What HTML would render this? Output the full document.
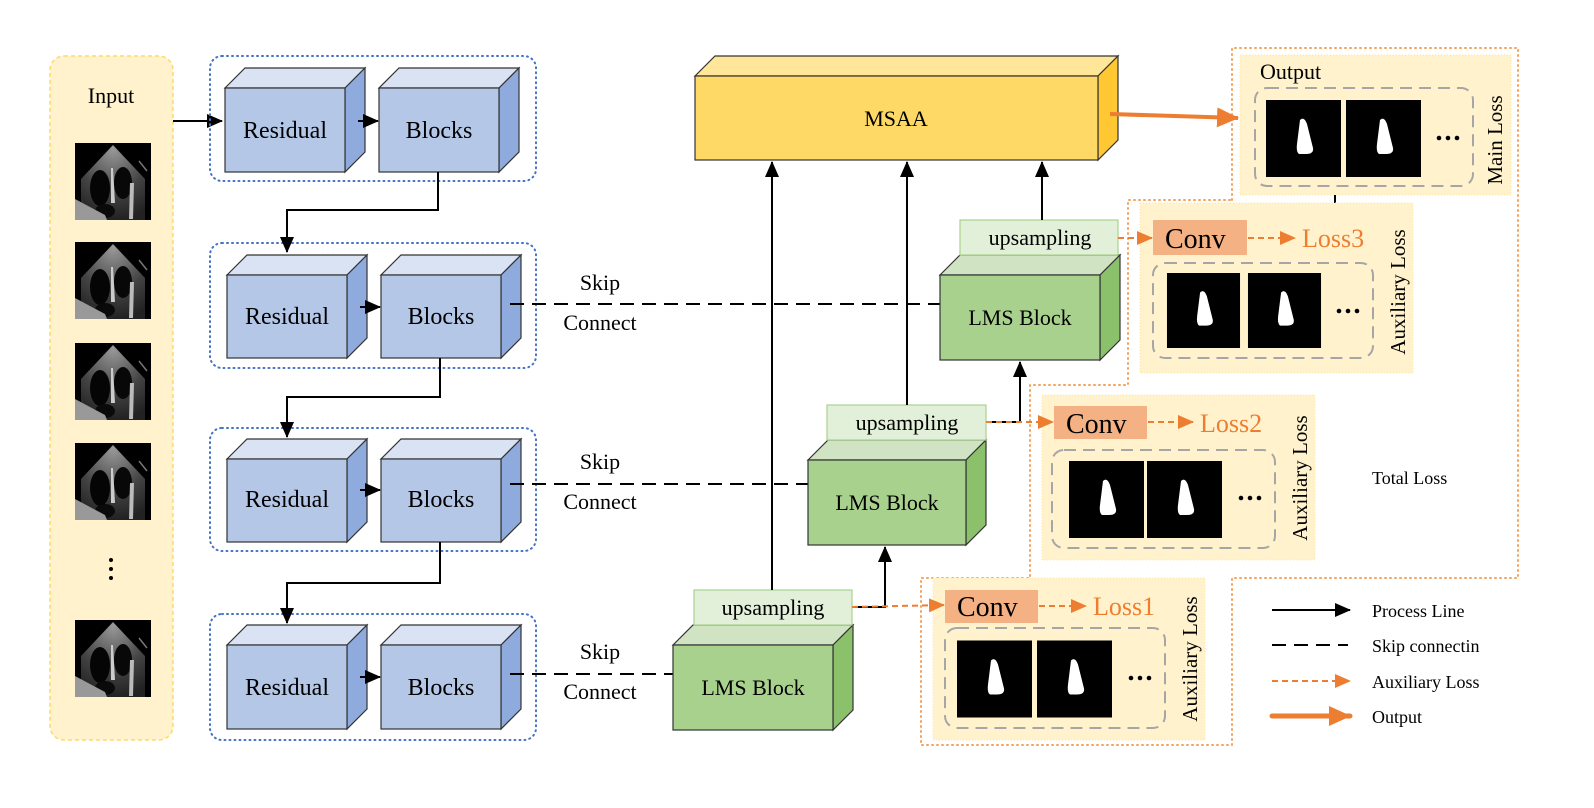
<!DOCTYPE html>
<html><head><meta charset="utf-8"><style>
html,body{margin:0;padding:0;background:#fff;}
svg{display:block;font-family:"Liberation Serif",serif;}
</style></head><body>
<svg width="1594" height="808" viewBox="0 0 1594 808" xmlns="http://www.w3.org/2000/svg">
<defs>
<marker id="ab2" markerWidth="16" markerHeight="14" refX="15" refY="7" orient="auto" markerUnits="userSpaceOnUse"><path d="M0,0 L16,7 L0,14 z" fill="#000"/></marker>
<marker id="ao" markerWidth="16" markerHeight="14" refX="15" refY="7" orient="auto" markerUnits="userSpaceOnUse"><path d="M0,0 L16,7 L0,14 z" fill="#ed7d31"/></marker>
<marker id="ao2" markerWidth="22" markerHeight="20" refX="21" refY="10" orient="auto" markerUnits="userSpaceOnUse"><path d="M0,0 L22,10 L0,20 z" fill="#ed7d31"/></marker>
<radialGradient id="fan" cx="0.5" cy="0.05" r="0.95"><stop offset="0" stop-color="#999"/><stop offset="0.6" stop-color="#444"/><stop offset="1" stop-color="#222"/></radialGradient>
<symbol id="echo" viewBox="0 0 76 77">
<rect width="76" height="77" fill="#000"/>
<path d="M38,2 L70,36 L70,77 L6,77 L6,36 z" fill="url(#fan)"/>
<ellipse cx="25" cy="45" rx="10" ry="18" fill="#050505"/>
<ellipse cx="48" cy="40" rx="9" ry="16" fill="#080808"/>
<ellipse cx="30" cy="68" rx="10" ry="7" fill="#0a0a0a"/>
<path d="M36,25 L38,25 L40,60 L36,60z" fill="#ccc"/>
<path d="M55,40 L59,40 L58,76 L54,76z" fill="#bbb"/>
<path d="M0,56 L30,72 L32,77 L0,77z" fill="#999"/>
<line x1="64" y1="18" x2="72" y2="28" stroke="#777" stroke-width="1.5"/>
</symbol>
<symbol id="mask" viewBox="0 0 75 77">
<rect width="75" height="77" fill="#000"/>
<path d="M34,20 Q38,16 41,24 L47,48 Q48,54 40,54 L33,54 Q30,52 31,44 Z" fill="#fff"/>
</symbol>
</defs>

<!-- Input panel -->
<rect x="50" y="56" width="123" height="684" rx="14" fill="#fff2cc" stroke="#ffd966" stroke-dasharray="4,3" stroke-width="1.5"/>
<text x="111" y="103" font-size="22" text-anchor="middle">Input</text>
<use href="#echo" x="75" y="143" width="76" height="77"/>
<use href="#echo" x="75" y="242" width="76" height="77"/>
<use href="#echo" x="75" y="343" width="76" height="77"/>
<use href="#echo" x="75" y="443" width="76" height="77"/>
<circle cx="111" cy="560" r="2" fill="#000"/><circle cx="111" cy="569" r="2" fill="#000"/><circle cx="111" cy="578" r="2" fill="#000"/>
<use href="#echo" x="75" y="620" width="76" height="77"/>
<line x1="173" y1="121" x2="222" y2="121" stroke="#000" stroke-width="2" marker-end="url(#ab2)"/>

<!-- Residual rows -->
<g stroke="#4472c4" stroke-width="2" stroke-dasharray="1,4" fill="none" stroke-linecap="round">
<rect x="210" y="56" width="326" height="125" rx="12"/>
<rect x="210" y="243" width="326" height="125" rx="12"/>
<rect x="210" y="428" width="326" height="123" rx="12"/>
<rect x="210" y="614" width="326" height="126" rx="12"/>
</g>
<g stroke="#333" stroke-width="1.2">
<polygon points="225,88 245,68 365,68 345,88" fill="#dae3f3"/><polygon points="345,88 365,68 365,152 345,172" fill="#8faadc"/><rect x="225" y="88" width="120" height="84" fill="#b4c7e7"/>
<polygon points="379,88 399,68 519,68 499,88" fill="#dae3f3"/><polygon points="499,88 519,68 519,152 499,172" fill="#8faadc"/><rect x="379" y="88" width="120" height="84" fill="#b4c7e7"/>
<polygon points="227,275 247,255 367,255 347,275" fill="#dae3f3"/><polygon points="347,275 367,255 367,338 347,358" fill="#8faadc"/><rect x="227" y="275" width="120" height="83" fill="#b4c7e7"/>
<polygon points="381,275 401,255 521,255 501,275" fill="#dae3f3"/><polygon points="501,275 521,255 521,338 501,358" fill="#8faadc"/><rect x="381" y="275" width="120" height="83" fill="#b4c7e7"/>
<polygon points="227,459 247,439 367,439 347,459" fill="#dae3f3"/><polygon points="347,459 367,439 367,522 347,542" fill="#8faadc"/><rect x="227" y="459" width="120" height="83" fill="#b4c7e7"/>
<polygon points="381,459 401,439 521,439 501,459" fill="#dae3f3"/><polygon points="501,459 521,439 521,522 501,542" fill="#8faadc"/><rect x="381" y="459" width="120" height="83" fill="#b4c7e7"/>
<polygon points="227,645 247,625 367,625 347,645" fill="#dae3f3"/><polygon points="347,645 367,625 367,709 347,729" fill="#8faadc"/><rect x="227" y="645" width="120" height="84" fill="#b4c7e7"/>
<polygon points="381,645 401,625 521,625 501,645" fill="#dae3f3"/><polygon points="501,645 521,625 521,709 501,729" fill="#8faadc"/><rect x="381" y="645" width="120" height="84" fill="#b4c7e7"/>
</g>
<g font-size="24" text-anchor="middle">
<text x="285" y="138">Residual</text><text x="439" y="138">Blocks</text>
<text x="287" y="324">Residual</text><text x="441" y="324">Blocks</text>
<text x="287" y="507">Residual</text><text x="441" y="507">Blocks</text>
<text x="287" y="695">Residual</text><text x="441" y="695">Blocks</text>
</g>
<g stroke="#000" stroke-width="2" fill="none">
<line x1="358" y1="121" x2="378" y2="121" marker-end="url(#ab2)"/>
<line x1="360" y1="307" x2="380" y2="307" marker-end="url(#ab2)"/>
<line x1="360" y1="490" x2="380" y2="490" marker-end="url(#ab2)"/>
<line x1="360" y1="677" x2="380" y2="677" marker-end="url(#ab2)"/>
<polyline points="438,172 438,210 287,210 287,252" marker-end="url(#ab2)"/>
<polyline points="440,358 440,397 287,397 287,437" marker-end="url(#ab2)"/>
<polyline points="440,542 440,583 287,583 287,623" marker-end="url(#ab2)"/>
</g>
<!-- skip -->
<g stroke="#000" stroke-width="2" stroke-dasharray="14,8">
<line x1="510" y1="304" x2="940" y2="304"/>
<line x1="510" y1="484" x2="808" y2="484"/>
<line x1="510" y1="674" x2="673" y2="674"/>
</g>
<g font-size="22" text-anchor="middle">
<text x="600" y="290">Skip</text><text x="600" y="330">Connect</text>
<text x="600" y="469">Skip</text><text x="600" y="509">Connect</text>
<text x="600" y="659">Skip</text><text x="600" y="699">Connect</text>
</g>

<!-- MSAA -->
<g stroke="#333" stroke-width="1.2">
<polygon points="695,76 715,56 1118,56 1098,76" fill="#ffe699"/>
<polygon points="1098,76 1118,56 1118,140 1098,160" fill="#ffc832"/>
<rect x="695" y="76" width="403" height="84" fill="#ffd966"/>
</g>
<text x="896" y="126" font-size="22" text-anchor="middle">MSAA</text>

<!-- LMS blocks -->
<g stroke="#333" stroke-width="1.2">
<polygon points="940,275 960,255 1120,255 1100,275" fill="#d0e4c4"/><polygon points="1100,275 1120,255 1120,340 1100,360" fill="#8bc16a"/><rect x="940" y="275" width="160" height="85" fill="#a9d18e"/>
<polygon points="808,460 828,440 986,440 966,460" fill="#d0e4c4"/><polygon points="966,460 986,440 986,525 966,545" fill="#8bc16a"/><rect x="808" y="460" width="158" height="85" fill="#a9d18e"/>
<polygon points="673,645 693,625 853,625 833,645" fill="#d0e4c4"/><polygon points="833,645 853,625 853,710 833,730" fill="#8bc16a"/><rect x="673" y="645" width="160" height="85" fill="#a9d18e"/>
</g>
<g fill="#e2efd9" stroke="#a9d18e" stroke-width="1.2">
<rect x="960" y="220" width="158" height="35"/>
<rect x="827" y="405" width="159" height="35"/>
<rect x="694" y="590" width="158" height="35"/>
</g>
<g font-size="22" text-anchor="middle">
<text x="1020" y="325">LMS Block</text>
<text x="887" y="510">LMS Block</text>
<text x="753" y="695">LMS Block</text>
<text x="1040" y="245">upsampling</text>
<text x="907" y="430">upsampling</text>
<text x="773" y="615">upsampling</text>
</g>
<g stroke="#000" stroke-width="2" fill="none">
<line x1="772" y1="590" x2="772" y2="162" marker-end="url(#ab2)"/>
<line x1="907" y1="405" x2="907" y2="162" marker-end="url(#ab2)"/>
<line x1="1042" y1="220" x2="1042" y2="162" marker-end="url(#ab2)"/>
<polyline points="852,607 885,607 885,547" marker-end="url(#ab2)"/>
<polyline points="986,422 1020,422 1020,362" marker-end="url(#ab2)"/>
<line x1="1335" y1="195" x2="1335" y2="213"/>
</g>

<!-- orange dotted staircase -->
<polyline points="1232,200 1232,48 1518,48 1518,578 1232,578 1232,745 921,745 921,578 1030,578 1030,385 1128,385 1128,200 1232,200" fill="none" stroke="#f4a460" stroke-width="2" stroke-dasharray="1,4" stroke-linecap="round"/>

<!-- loss panels -->
<g fill="#fff2cc" stroke="#ffe699" stroke-dasharray="1,2">
<rect x="1240" y="55" width="271" height="140"/>
<rect x="1140" y="203" width="273" height="170"/>
<rect x="1042" y="395" width="273" height="165"/>
<rect x="933" y="578" width="272" height="162"/>
</g>
<g fill="none" stroke="#a6a6a6" stroke-width="2" stroke-dasharray="12,7">
<rect x="1255" y="88" width="218" height="98" rx="12"/>
<rect x="1153" y="263" width="220" height="95" rx="12"/>
<rect x="1052" y="450" width="223" height="98" rx="12"/>
<rect x="945" y="628" width="220" height="100" rx="12"/>
</g>
<use href="#mask" x="1266" y="100" width="75" height="77"/><use href="#mask" x="1346" y="100" width="75" height="77"/>
<use href="#mask" x="1166" y="273" width="75" height="75"/><use href="#mask" x="1247" y="273" width="75" height="75"/>
<use href="#mask" x="1069" y="461" width="75" height="77"/><use href="#mask" x="1147" y="461" width="75" height="77"/>
<use href="#mask" x="957" y="640" width="75" height="78"/><use href="#mask" x="1037" y="640" width="75" height="78"/>
<g fill="#000">
<circle cx="1439" cy="138" r="2.3"/><circle cx="1448" cy="138" r="2.3"/><circle cx="1457" cy="138" r="2.3"/>
<circle cx="1339" cy="311" r="2.3"/><circle cx="1348" cy="311" r="2.3"/><circle cx="1357" cy="311" r="2.3"/>
<circle cx="1241" cy="498" r="2.3"/><circle cx="1250" cy="498" r="2.3"/><circle cx="1259" cy="498" r="2.3"/>
<circle cx="1131" cy="678" r="2.3"/><circle cx="1140" cy="678" r="2.3"/><circle cx="1149" cy="678" r="2.3"/>
</g>
<text x="1260" y="79" font-size="22">Output</text>
<g font-size="21" text-anchor="middle">
<text transform="translate(1502,140) rotate(-90)">Main Loss</text>
<text transform="translate(1405,292) rotate(-90)">Auxiliary Loss</text>
<text transform="translate(1307,478) rotate(-90)">Auxiliary Loss</text>
<text transform="translate(1197,659) rotate(-90)">Auxiliary Loss</text>
</g>
<g fill="#f4b183">
<rect x="1153" y="220" width="94" height="35"/>
<rect x="1054" y="406" width="93" height="33"/>
<rect x="945" y="590" width="93" height="33"/>
</g>
<g font-size="28">
<text x="1165" y="248">Conv</text><text x="1066" y="433">Conv</text><text x="957" y="616">Conv</text>
</g>
<g font-size="26" fill="#ed7d31">
<text x="1302" y="247">Loss3</text><text x="1200" y="432">Loss2</text><text x="1093" y="615">Loss1</text>
</g>
<g stroke="#ed7d31" stroke-width="2" stroke-dasharray="6,4" fill="none">
<line x1="1118" y1="238" x2="1152" y2="238" marker-end="url(#ao)"/>
<line x1="1248" y1="238" x2="1295" y2="238" marker-end="url(#ao)"/>
<line x1="986" y1="422" x2="1053" y2="422" marker-end="url(#ao)"/>
<line x1="1148" y1="422" x2="1193" y2="422" marker-end="url(#ao)"/>
<line x1="852" y1="607" x2="944" y2="605" marker-end="url(#ao)"/>
<line x1="1039" y1="606" x2="1086" y2="606" marker-end="url(#ao)"/>
</g>
<line x1="1110" y1="114" x2="1238" y2="118" stroke="#ed7d31" stroke-width="4" marker-end="url(#ao2)"/>

<text x="1372" y="484" font-size="18">Total Loss</text>

<!-- legend -->
<line x1="1272" y1="610" x2="1350" y2="610" stroke="#000" stroke-width="2" marker-end="url(#ab2)"/>
<line x1="1272" y1="645" x2="1348" y2="645" stroke="#000" stroke-width="2" stroke-dasharray="14,8"/>
<line x1="1272" y1="681" x2="1350" y2="681" stroke="#ed7d31" stroke-width="2" stroke-dasharray="6,4" marker-end="url(#ao)"/>
<line x1="1272" y1="716" x2="1350" y2="716" stroke="#ed7d31" stroke-width="5" stroke-linecap="round" marker-end="url(#ao2)"/>
<g font-size="18">
<text x="1372" y="617">Process Line</text>
<text x="1372" y="652">Skip connectin</text>
<text x="1372" y="688">Auxiliary Loss</text>
<text x="1372" y="723">Output</text>
</g>
</svg>
</body></html>
